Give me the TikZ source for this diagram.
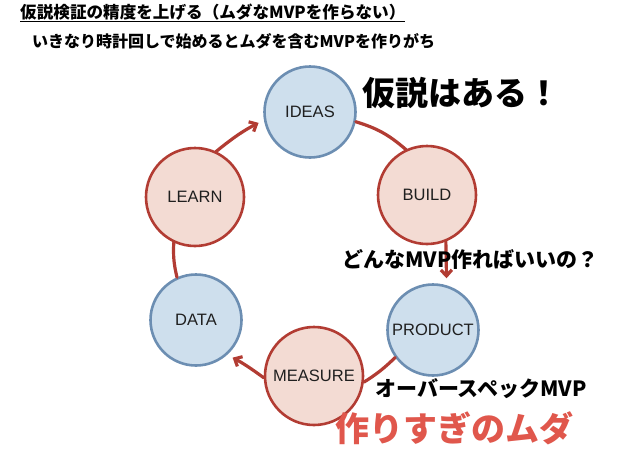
\documentclass[tikz,border=0pt]{standalone}
\usepackage{fontspec}
\setmainfont{Liberation Sans}
\newfontfamily\jp{Noto Sans CJK JP}
\usetikzlibrary{arrows.meta}
\definecolor{ringred}{HTML}{B23C33}
\definecolor{ballpink}{HTML}{F3DBD3}
\definecolor{ringblue}{HTML}{6C8EB2}
\definecolor{ballblue}{HTML}{CEDFED}
\definecolor{wastered}{HTML}{E0574C}
\begin{document}
\begin{tikzpicture}[x=1pt,y=-1pt,>={Straight Barb[length=6pt,width=11pt]},line cap=round,line join=round,
	redball/.style={circle,draw=ringred,fill=ballpink,line width=2.6pt,minimum size=98pt,text=black!88,font=\fontsize{16.5}{16.5}\selectfont},
	blueball/.style={circle,draw=ringblue,fill=ballblue,line width=2.6pt,minimum size=91pt,text=black!88,font=\fontsize{16.5}{16.5}\selectfont},
	cyc/.style={draw=ringred,line width=3.2pt},
	jtext/.style={anchor=west,inner sep=0pt,font=\jp\bfseries\fontsize{#1}{#1}\selectfont}]
	\useasboundingbox (0,0) rectangle (638,451);
	% the cycle
	\node[blueball] (ideas) at (310,112) {IDEAS};
	\node[redball] (build) at (427,195) {BUILD};
	\node[blueball] (product) at (433,330) {PRODUCT};
	\node[redball] (measure) at (314,376) {MEASURE};
	\node[blueball] (data) at (196,320) {DATA};
	\node[redball] (learn) at (195,197) {LEARN};
	\draw[cyc,->,shorten >=6pt] (learn.65) to[bend left=6] (ideas.190);
	\draw[cyc] (ideas.-12) to[bend left=12] (build.115);
	\draw[cyc,->,shorten >=7pt] (build.-68) -- (product.73);
	\draw[cyc] (product.-144) to[bend left=6] (measure.-7);
	\draw[cyc,->,shorten >=6pt] (measure.182) to[bend right=4] (data.-48);
	\draw[cyc] (data.114) to[bend left=8] (learn.-115);
	% texts
	\node[jtext=16.6] (title) at (20,13) {\underline{仮説検証の精度を上げる（ムダなMVPを作らない）}};
	\node[jtext=16] (sub) at (32,41) {いきなり時計回しで始めるとムダを含むMVPを作りがち};
	\node[jtext=33] (hypo) at (362,93) {仮説はある！};
	\node[jtext=21] (which) at (342,259) {どんなMVP作ればいいの？};
	\node[jtext=21] (overspec) at (375,389) {オーバースペックMVP};
	\node[jtext=34,text=wastered] (waste) at (335,428) {作りすぎのムダ};
\end{tikzpicture}
\end{document}
